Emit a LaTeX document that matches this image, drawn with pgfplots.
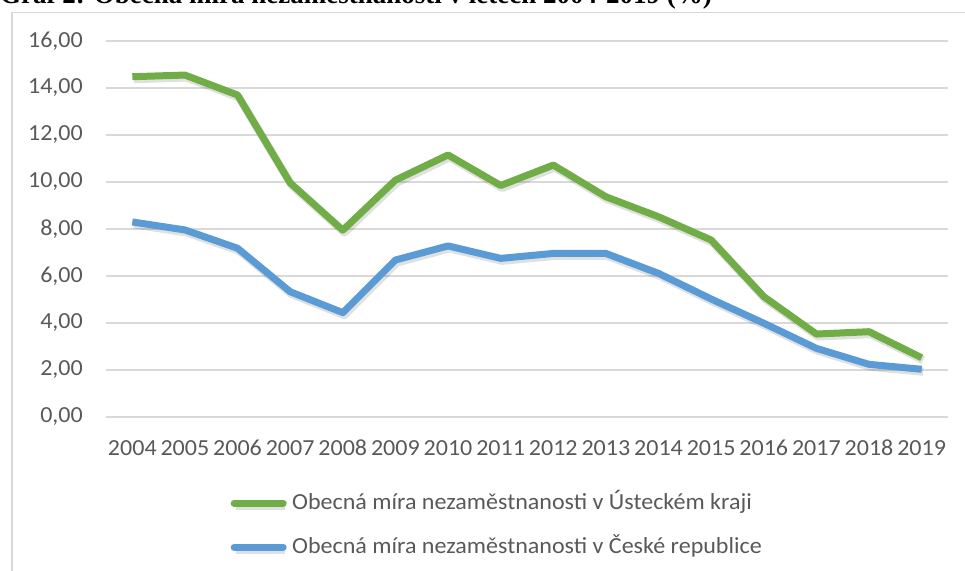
\documentclass[border=0pt]{standalone}
\usepackage{fontspec}
\setmainfont{Carlito}[FakeStretch=1.045]
\newfontfamily\titlefont{Liberation Serif}
\usepackage{pgfplots}
\pgfplotsset{compat=1.18}
\definecolor{grn}{HTML}{70AD47}
\definecolor{blu}{HTML}{5B9BD5}
\definecolor{gridc}{HTML}{D9D9D9}
\definecolor{txt}{HTML}{595959}
\begin{document}
\begin{tikzpicture}[x=1bp,y=1bp]
\useasboundingbox (0,0) rectangle (965,571);
\clip (0,0) rectangle (965,571);
\draw[gridc, line width=1.5bp] (12,558.5) -- (965,558.5);
\draw[gridc, line width=1.5bp] (12,558.5) -- (12,0);
\node[anchor=base west, inner sep=0pt, font=\titlefont\bfseries\fontsize{27bp}{30bp}\selectfont] at (0,567) {Graf 2: Obecná míra nezaměstnanosti v letech 2004-2019 (\%)};
\begin{axis}[
  at={(106bp,154bp)}, anchor=south west,
  scale only axis, width=842bp, height=376bp,
  xmin=2003.5, xmax=2019.5, ymin=0, ymax=16,
  ytick={0,2,...,16}, xtick={2004,...,2019},
  axis line style={draw=none},
  major tick length=0pt,
  ymajorgrids, grid style={gridc, line width=1.5bp},
  /pgf/number format/assume math mode=true,
  tick label style={font=\fontsize{23bp}{27bp}\selectfont, text=txt},
  xticklabel style={/pgf/number format/1000 sep={}, anchor=center, yshift=-31bp},
  yticklabel style={/pgf/number format/.cd, fixed, fixed zerofill, precision=2, use comma, /tikz/.cd, anchor=east, inner sep=0pt, xshift=-23bp},
  legend cell align=left,
  legend style={at={(axis description cs:0.1437,-0.1995)}, anchor=north west, draw=none, fill=none,
    font=\fontsize{23bp}{27bp}\selectfont, text=txt, inner sep=0pt, row sep=22bp,
    nodes={inner sep=0pt, text height=17bp, text depth=5bp},
    /tikz/every odd column/.append style={column sep=2bp}},
  legend image code/.code={\path (0bp,0bp) (56bp,0bp); \draw[#1, line cap=round] (3.5bp,0bp) -- (52.5bp,0bp);},
  every axis plot/.append style={line width=7bp, line join=round,
    preaction={draw=black, opacity=0.12, line width=8bp, transform canvas={shift={(1.5bp,-2.5bp)}}}},
]
\addplot[grn] coordinates {
(2004,14.48) (2005,14.55) (2006,13.70) (2007,9.96) (2008,7.95) (2009,10.08) (2010,11.15) (2011,9.85)
(2012,10.72) (2013,9.37) (2014,8.52) (2015,7.53) (2016,5.12) (2017,3.53) (2018,3.63) (2019,2.52)};
\addlegendentry{Obecná míra nezaměstnanosti v Ústeckém kraji}
\addplot[blu] coordinates {
(2004,8.30) (2005,7.96) (2006,7.18) (2007,5.33) (2008,4.44) (2009,6.68) (2010,7.28) (2011,6.75)
(2012,6.96) (2013,6.96) (2014,6.11) (2015,5.02) (2016,3.99) (2017,2.92) (2018,2.24) (2019,2.03)};
\addlegendentry{Obecná míra nezaměstnanosti v České republice}
\end{axis}
\end{tikzpicture}
\end{document}
